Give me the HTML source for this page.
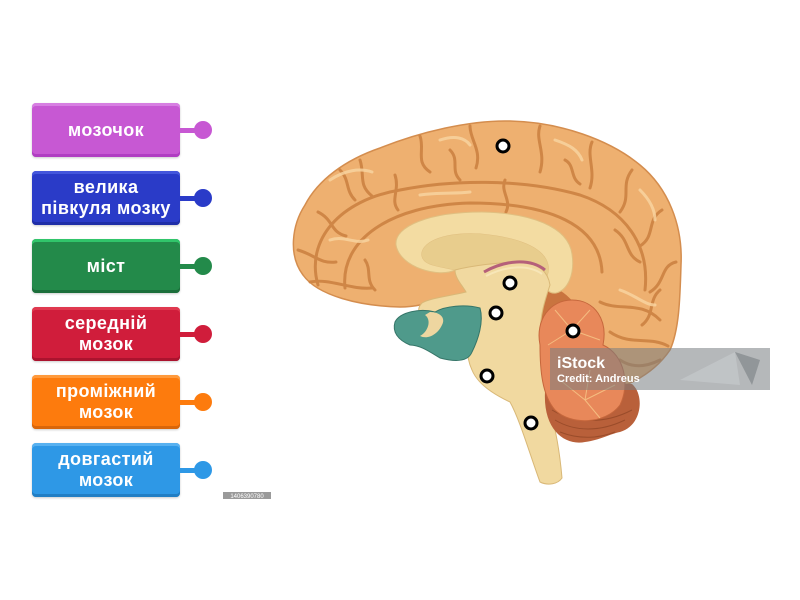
<!DOCTYPE html>
<html><head><meta charset="utf-8">
<style>
html,body{margin:0;padding:0;background:#fff;width:800px;height:600px;overflow:hidden;}
body{position:relative;font-family:"Liberation Sans","DejaVu Sans",sans-serif;}
.box{position:absolute;left:32px;width:148px;height:54px;border-radius:4px;color:#fff;font-weight:bold;font-size:18px;line-height:21px;letter-spacing:0.4px;display:flex;align-items:center;justify-content:center;text-align:center;box-shadow:0 1px 2px rgba(0,0,0,0.25);}
.line{position:absolute;left:180px;width:18px;height:5px;}
.dot{position:absolute;left:194px;width:18px;height:18px;border-radius:50%;}
</style></head><body>

<div class="box" style="top:103px;background:#c758d3;box-shadow:inset 0 3px 0 #d77fe2,inset 0 -3px 0 #b03dc2,0 1px 2px rgba(0,0,0,.2);">мозочок</div>
<div class="line" style="top:128px;background:#c758d3"></div><div class="dot" style="top:121px;background:#c758d3"></div>

<div class="box" style="top:171px;background:#2a3bc8;box-shadow:inset 0 3px 0 #4356dc,inset 0 -3px 0 #1f2ea8,0 1px 2px rgba(0,0,0,.2);">велика<br>півкуля мозку</div>
<div class="line" style="top:196px;background:#2a3bc8"></div><div class="dot" style="top:189px;background:#2a3bc8"></div>

<div class="box" style="top:239px;background:#238a4a;box-shadow:inset 0 3px 0 #31c56b,inset 0 -3px 0 #1b6e3a,0 1px 2px rgba(0,0,0,.2);">міст</div>
<div class="line" style="top:264px;background:#238a4a"></div><div class="dot" style="top:257px;background:#238a4a"></div>

<div class="box" style="top:307px;background:#d01d3b;box-shadow:inset 0 3px 0 #e0394f,inset 0 -3px 0 #ab132e,0 1px 2px rgba(0,0,0,.2);">середній<br>мозок</div>
<div class="line" style="top:332px;background:#d01d3b"></div><div class="dot" style="top:325px;background:#d01d3b"></div>

<div class="box" style="top:375px;background:#fd7b0d;box-shadow:inset 0 3px 0 #ff9a3c,inset 0 -3px 0 #d9660a,0 1px 2px rgba(0,0,0,.2);">проміжний<br>мозок</div>
<div class="line" style="top:400px;background:#fd7b0d"></div><div class="dot" style="top:393px;background:#fd7b0d"></div>

<div class="box" style="top:443px;background:#2e98e6;box-shadow:inset 0 3px 0 #58b1f0,inset 0 -3px 0 #217ec4,0 1px 2px rgba(0,0,0,.2);">довгастий<br>мозок</div>
<div class="line" style="top:468px;background:#2e98e6"></div><div class="dot" style="top:461px;background:#2e98e6"></div>

<svg width="800" height="600" style="position:absolute;left:0;top:0" xmlns="http://www.w3.org/2000/svg">
  <!-- cerebrum -->
  <path d="M400,307 C360,306 318,296 303,275 C288,255 292,225 305,205 C318,180 345,160 380,148 C420,132 470,120 510,121 C560,122 610,140 640,165 C668,188 683,225 681,265 C680,300 679,330 670,350 C655,372 632,385 605,392 C580,380 560,340 545,300 L460,295 C440,300 420,307 400,307 Z" fill="#eeb070" stroke="#d48d4e" stroke-width="1.5"/>
  <!-- darker area behind brainstem -->
  <path d="M540,285 C560,285 575,300 585,320 C570,325 550,330 540,330 Z" fill="#c9743f"/>
  <!-- sulci -->
  <g fill="none" stroke="#cf8646" stroke-width="3" stroke-linecap="round">
    <path d="M318,285 C305,240 340,200 400,190 C450,180 520,178 580,195 C625,210 650,245 645,290"/>
    <path d="M345,288 C340,240 390,205 470,203 C550,203 600,225 602,272"/>
    <path d="M360,160 C365,175 358,185 372,196"/>
    <path d="M420,136 C425,150 415,162 430,172"/>
    <path d="M470,126 C470,140 482,150 476,168"/>
    <path d="M540,126 C535,140 546,152 540,172"/>
    <path d="M592,142 C586,156 596,170 590,188"/>
    <path d="M632,170 C620,186 632,196 620,212"/>
    <path d="M662,210 C646,220 656,236 640,246"/>
    <path d="M676,262 C660,266 666,282 650,292"/>
    <path d="M318,212 C334,220 330,232 346,236"/>
    <path d="M298,250 C315,255 320,264 336,262"/>
    <path d="M310,282 C330,278 350,290 372,288"/>
    <path d="M600,302 C620,312 640,300 660,320"/>
    <path d="M610,332 C630,346 650,336 668,346"/>
    <path d="M395,175 C400,190 390,200 398,210"/>
    <path d="M505,180 C500,192 512,200 506,212"/>
    <path d="M615,230 C630,240 625,255 640,262"/>
    <path d="M340,170 C350,180 345,190 355,200"/>
    <path d="M450,150 C460,160 450,170 460,180"/>
    <path d="M565,160 C575,165 570,178 580,184"/>
    <path d="M660,290 C648,300 655,315 642,325"/>
    <path d="M620,360 C635,370 650,365 660,360"/>
    <path d="M365,260 C372,270 365,280 375,290"/>
  </g>
  <g fill="none" stroke="#f9d6a3" stroke-width="3" stroke-linecap="round" opacity="0.8">
    <path d="M330,180 C345,170 360,168 372,172"/>
    <path d="M440,140 C455,135 465,138 470,145"/>
    <path d="M555,140 C570,145 578,150 582,160"/>
    <path d="M640,190 C650,200 655,210 655,220"/>
    <path d="M330,240 C345,235 355,245 368,240"/>
    <path d="M420,195 C440,192 455,194 470,192"/>
    <path d="M620,290 C635,295 645,305 655,305"/>
  </g>
  <!-- corpus callosum arch -->
  <path d="M396,245 C394,226 430,212 482,212 C530,213 568,226 572,254 C575,274 568,290 556,293 C546,294 543,284 547,276 C552,262 545,240 480,234 C440,232 420,244 422,256 C424,266 440,266 455,270 C440,278 400,268 396,245 Z" fill="#f3dca2" stroke="#e0bf80" stroke-width="1"/>
  <!-- ventricle interior -->
  <path d="M422,256 C420,244 440,232 480,234 C545,240 552,262 547,276 C535,265 515,262 490,264 C470,266 460,270 455,270 C440,266 424,266 422,256 Z" fill="#e8cd8d"/>
  <!-- brainstem / diencephalon -->
  <path d="M455,270 C470,266 500,262 520,262 C540,264 548,272 550,285 C545,300 540,315 540,335 C540,360 545,390 550,410 C556,430 560,455 562,478 C558,484 548,486 540,482 C530,455 520,420 510,402 C495,395 478,385 472,370 C465,355 466,335 472,318 C460,310 445,312 430,315 C420,318 415,310 422,303 C430,298 450,296 466,292 C462,285 455,278 455,270 Z" fill="#f1d9a0" stroke="#d9b877" stroke-width="1"/>
  <!-- fornix pink -->
  <path d="M484,272 C505,260 530,258 545,270" fill="none" stroke="#b5607a" stroke-width="3"/>
  <path d="M486,276 C505,266 528,264 542,274" fill="none" stroke="#f7e6b8" stroke-width="2"/>
  <!-- teal -->
  <path d="M395,322 C400,312 420,308 435,312 C445,306 465,304 480,308 C484,322 478,340 472,352 C468,362 455,362 440,358 C430,352 420,345 410,345 C398,340 392,332 395,322 Z" fill="#4f9a8b" stroke="#357568" stroke-width="1"/>
  <path d="M425,315 C432,320 428,332 420,336 C428,340 438,334 442,325 C446,318 440,312 430,312 Z" fill="#eed6a0"/>
  <!-- cerebellum -->
  <path d="M545,392 C543,430 565,446 585,442 C600,440 610,434 620,432 C642,426 645,395 632,384 L560,380 Z" fill="#b9603a"/>
  <g fill="none" stroke="#8e4424" stroke-width="1" opacity="0.7">
    <path d="M555,420 C575,432 600,432 625,420"/>
    <path d="M552,410 C575,424 605,424 632,410"/>
    <path d="M560,432 C580,440 600,438 615,432"/>
  </g>
  <path d="M540,345 C535,320 550,300 572,300 C595,300 608,320 603,345 C625,355 630,385 620,405 C605,425 570,425 555,410 C542,395 540,370 540,345 Z" fill="#e8885a" stroke="#c6673c" stroke-width="1"/>
  <g fill="none" stroke="#f7c98a" stroke-width="1" opacity="0.8">
    <path d="M572,330 L555,310 M572,330 L590,310 M572,330 L600,340 M572,330 L548,345"/>
    <path d="M585,400 L560,380 M585,400 L590,370 M585,400 L615,385 M585,400 L600,418"/>
  </g>
  <!-- dots -->
  <g fill="#fff" stroke="#000" stroke-width="3">
    <circle cx="503" cy="146" r="6"/>
    <circle cx="510" cy="283" r="6"/>
    <circle cx="496" cy="313" r="6"/>
    <circle cx="573" cy="331" r="6"/>
    <circle cx="487" cy="376" r="6"/>
    <circle cx="531" cy="423" r="6"/>
  </g>
  <!-- watermark -->
  <rect x="550" y="348" width="220" height="42" fill="rgb(120,126,130)" opacity="0.55"/>
  <polygon points="680,380 735,352 740,385" fill="#c8ccce" opacity="0.6"/>
  <polygon points="735,352 760,360 752,385" fill="#6e7478" opacity="0.5"/>
  <text x="557" y="368" font-family="Liberation Sans, sans-serif" font-weight="bold" font-size="16" fill="#fff">iStock</text>
  <text x="557" y="382" font-family="Liberation Sans, sans-serif" font-weight="bold" font-size="11" fill="#fff">Credit: Andreus</text>
  <!-- id label -->
  <rect x="223" y="492" width="48" height="7" fill="#9a9a9a"/>
  <text x="247" y="498" text-anchor="middle" font-family="Liberation Sans, sans-serif" font-size="6" fill="#fff">1406390780</text>
</svg>
</body></html>
